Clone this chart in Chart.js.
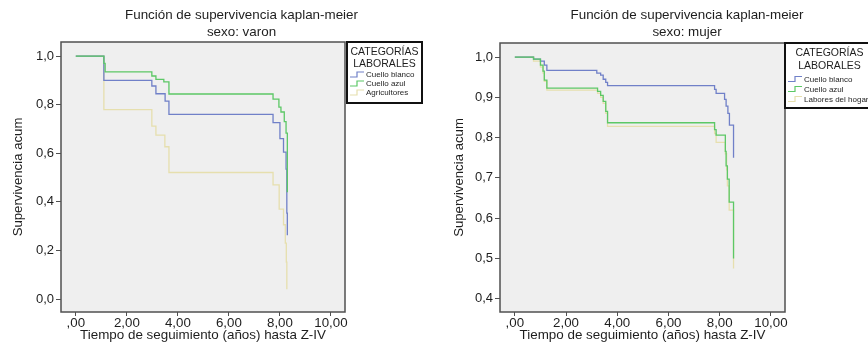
<!DOCTYPE html>
<html lang="es">
<head>
<meta charset="utf-8">
<title>Función de supervivencia kaplan-meier</title>
<script src="https://cdn.jsdelivr.net/npm/chart.js@4.4.1/dist/chart.umd.min.js"></script>
<style>
    html, body { margin: 0; padding: 0; background: #fff; }
    #wrap { position: relative; width: 868px; height: 348px; overflow: hidden; }
    canvas { position: absolute; top: 0; }
    #varon { left: 0; }
    #mujer { left: 434px; }
</style>
</head>
<body>
<div id="wrap">
    <canvas id="varon" width="434" height="348"></canvas>
    <canvas id="mujer" width="434" height="348"></canvas>
</div>
<script>
// tick values and labels
const xTicks = [0, 2, 4, 6, 8, 10];
const xTickLabels = [",00", "2,00", "4,00", "6,00", "8,00", "10,00"];
const yTicksVaron = [0, 0.2, 0.4, 0.6, 0.8, 1.0];
const yTickLabelsVaron = ["0,0", "0,2", "0,4", "0,6", "0,8", "1,0"];
const yTicksMujer = [0.4, 0.5, 0.6, 0.7, 0.8, 0.9, 1.0];
const yTickLabelsMujer = ["0,4", "0,5", "0,6", "0,7", "0,8", "0,9", "1,0"];

// sexo: varon
const varonBlancoT = [0, 1.1, 2.98, 3.14, 3.5, 3.65, 7.73, 8.0, 8.14, 8.24, 8.27, 8.29];
const varonBlancoS = [1.0, 0.9, 0.877, 0.845, 0.815, 0.76, 0.726, 0.66, 0.605, 0.535, 0.354, 0.263];
const varonAzulT = [0, 1.1, 1.15, 2.98, 3.14, 3.45, 3.65, 7.73, 7.96, 8.04, 8.17, 8.24, 8.29, 8.29];
const varonAzulS = [1.0, 0.97, 0.935, 0.918, 0.904, 0.894, 0.844, 0.823, 0.79, 0.77, 0.73, 0.683, 0.606, 0.44];
const varonAgriT = [0, 1.1, 2.98, 3.14, 3.49, 3.65, 7.73, 7.97, 8.14, 8.21, 8.25, 8.27];
const varonAgriS = [1.0, 0.78, 0.712, 0.675, 0.627, 0.521, 0.47, 0.37, 0.306, 0.23, 0.152, 0.041];

// sexo: mujer
const mujerBlancoT = [0, 0.73, 1.0, 1.15, 1.25, 3.2, 3.35, 3.45, 3.55, 3.62, 7.8, 7.86, 8.19, 8.25, 8.32, 8.38, 8.54];
const mujerBlancoS = [1.0, 0.995, 0.99, 0.98, 0.967, 0.96, 0.955, 0.945, 0.937, 0.929, 0.92, 0.91, 0.895, 0.878, 0.86, 0.831, 0.75];
const mujerAzulT = [0, 0.73, 1.0, 1.1, 1.15, 1.25, 3.23, 3.35, 3.45, 3.55, 3.62, 7.8, 7.86, 8.22, 8.25, 8.3, 8.37, 8.54];
const mujerAzulS = [1.0, 0.995, 0.98, 0.965, 0.943, 0.923, 0.915, 0.905, 0.89, 0.865, 0.837, 0.82, 0.806, 0.766, 0.73, 0.697, 0.64, 0.5];
const mujerHogarT = [0, 0.73, 1.0, 1.1, 1.15, 1.25, 3.23, 3.35, 3.45, 3.55, 3.62, 7.8, 7.86, 8.22, 8.27, 8.3, 8.37, 8.54];
const mujerHogarS = [1.0, 0.99, 0.975, 0.96, 0.94, 0.918, 0.91, 0.9, 0.885, 0.86, 0.828, 0.81, 0.788, 0.76, 0.72, 0.68, 0.62, 0.475];

const FONT = "'Liberation Sans', Arial, Helvetica, sans-serif";
const BLUE = "#7080c8";
const GREEN = "#5cc866";
const BEIGE = "#e6dfae";

Chart.defaults.font.family = FONT;
Chart.defaults.color = "#1e1e1e";

// grey plot area, frame, two-line title and SPSS style legend box
const spssFrame = {
    id: "spssFrame",
    beforeDraw(chart) {
        const { ctx, chartArea: a } = chart;
        ctx.save();
        ctx.fillStyle = "#efefef";
        ctx.fillRect(a.left, a.top, a.width, a.height);
        ctx.restore();
    },
    afterDraw(chart, args, opts) {
        const { ctx, chartArea: a } = chart;
        ctx.save();
        ctx.strokeStyle = "#505050";
        ctx.lineWidth = 1.5;
        ctx.strokeRect(a.left, a.top, a.width, a.height);

        const lx = a.right + opts.legendGap;
        const ly = a.top;

        ctx.fillStyle = "#1e1e1e";
        ctx.textAlign = "center";
        ctx.textBaseline = "middle";
        ctx.font = "13.4px " + FONT;
        const cx = (a.left + lx + opts.legendWidth) / 2;
        opts.title.forEach((t, i) => ctx.fillText(t, cx, opts.titleY[i]));

        ctx.strokeStyle = "#111";
        ctx.lineWidth = 2;
        ctx.strokeRect(lx, ly, opts.legendWidth, opts.legendHeight);

        ctx.font = "10.5px " + FONT;
        const lcx = lx + opts.legendWidth / 2;
        ctx.fillText("CATEGORÍAS", lcx, ly + opts.legendTitleY[0]);
        ctx.fillText("LABORALES", lcx, ly + opts.legendTitleY[1]);

        ctx.font = "8px " + FONT;
        ctx.textAlign = "left";
        chart.data.datasets.forEach((ds, i) => {
            const y = ly + opts.itemY0 + i * opts.itemStep;
            const x0 = lx + 3;
            ctx.strokeStyle = ds.borderColor;
            ctx.lineWidth = 1.2;
            ctx.beginPath();
            ctx.moveTo(x0, y + 2.5);
            ctx.lineTo(x0 + 7, y + 2.5);
            ctx.lineTo(x0 + 7, y - 2.5);
            ctx.lineTo(x0 + 14, y - 2.5);
            ctx.stroke();
            ctx.fillStyle = "#1e1e1e";
            ctx.fillText(ds.label, lx + 19, y + 0.5);
        });
        ctx.restore();
    },
};

function makeChart(id, o) {
    return new Chart(document.getElementById(id), {
        type: "line",
        data: {
            datasets: o.series.map((s) => ({
                label: s.label,
                data: s.t.map((t, i) => ({ x: t, y: s.s[i] })),
                borderColor: s.color,
                borderWidth: 1.3,
                stepped: "before",
                pointRadius: 0,
                fill: false,
                order: s.order,
            })),
        },
        options: {
            responsive: false,
            animation: false,
            events: [],
            layout: { padding: { top: o.top, right: o.right, left: 0, bottom: 0 } },
            plugins: {
                legend: { display: false },
                tooltip: { enabled: false },
                spssFrame: o.frame,
            },
            scales: {
                x: {
                    type: "linear",
                    min: -0.58,
                    max: 10.55,
                    afterFit: (s) => { s.height = 36; },
                    afterBuildTicks: (s) => { s.ticks = xTicks.map((v) => ({ value: v })); },
                    ticks: {
                        autoSkip: false,
                        maxRotation: 0,
                        padding: -1,
                        font: { size: 13.3 },
                        callback: (v) => xTickLabels[xTicks.indexOf(v)],
                    },
                    grid: { drawOnChartArea: false, drawTicks: true, tickLength: 4, color: "#505050" },
                    border: { display: false },
                    title: {
                        display: true,
                        text: "Tiempo de seguimiento (años) hasta Z-IV",
                        font: { size: 13.4 },
                        padding: { top: 0, bottom: 4.5 },
                    },
                },
                y: {
                    type: "linear",
                    min: o.yMin,
                    max: o.yMax,
                    afterFit: (s) => { s.width = o.yWidth; },
                    afterBuildTicks: (s) => { s.ticks = o.yTicks.map((v) => ({ value: v })); },
                    ticks: {
                        autoSkip: false,
                        padding: 2,
                        font: { size: 13 },
                        callback: (v) => o.yLabels[o.yTicks.indexOf(v)],
                    },
                    grid: { drawOnChartArea: false, drawTicks: true, tickLength: 5, color: "#505050" },
                    border: { display: false },
                    title: {
                        display: true,
                        text: "Supervivencia acum",
                        font: { size: 13.2 },
                        padding: { top: o.yTitlePad, bottom: 0 },
                    },
                },
            },
        },
        plugins: [spssFrame],
    });
}

makeChart("varon", {
    top: 42,
    right: 89,
    yWidth: 61,
    yTitlePad: 10,
    yMin: -0.053,
    yMax: 1.058,
    yTicks: yTicksVaron,
    yLabels: yTickLabelsVaron,
    series: [
        { label: "Cuello blanco", t: varonBlancoT, s: varonBlancoS, color: BLUE, order: 1 },
        { label: "Cuello azul", t: varonAzulT, s: varonAzulS, color: GREEN, order: 0 },
        { label: "Agricultores", t: varonAgriT, s: varonAgriS, color: BEIGE, order: 2 },
    ],
    frame: {
        title: ["Función de supervivencia kaplan-meier", "sexo: varon"],
        titleY: [15, 32],
        legendGap: 2,
        legendWidth: 75,
        legendHeight: 61,
        legendTitleY: [10, 22],
        itemY0: 32.5,
        itemStep: 9,
    },
});

makeChart("mujer", {
    top: 43,
    right: 83,
    yWidth: 66,
    yTitlePad: 17,
    yMin: 0.367,
    yMax: 1.035,
    yTicks: yTicksMujer,
    yLabels: yTickLabelsMujer,
    series: [
        { label: "Cuello blanco", t: mujerBlancoT, s: mujerBlancoS, color: BLUE, order: 1 },
        { label: "Cuello azul", t: mujerAzulT, s: mujerAzulS, color: GREEN, order: 0 },
        { label: "Labores del hogar", t: mujerHogarT, s: mujerHogarS, color: BEIGE, order: 2 },
    ],
    frame: {
        title: ["Función de supervivencia kaplan-meier", "sexo: mujer"],
        titleY: [15, 32],
        legendGap: 0,
        legendWidth: 89,
        legendHeight: 65,
        legendTitleY: [10, 23],
        itemY0: 36,
        itemStep: 10,
    },
});
</script>
</body>
</html>
